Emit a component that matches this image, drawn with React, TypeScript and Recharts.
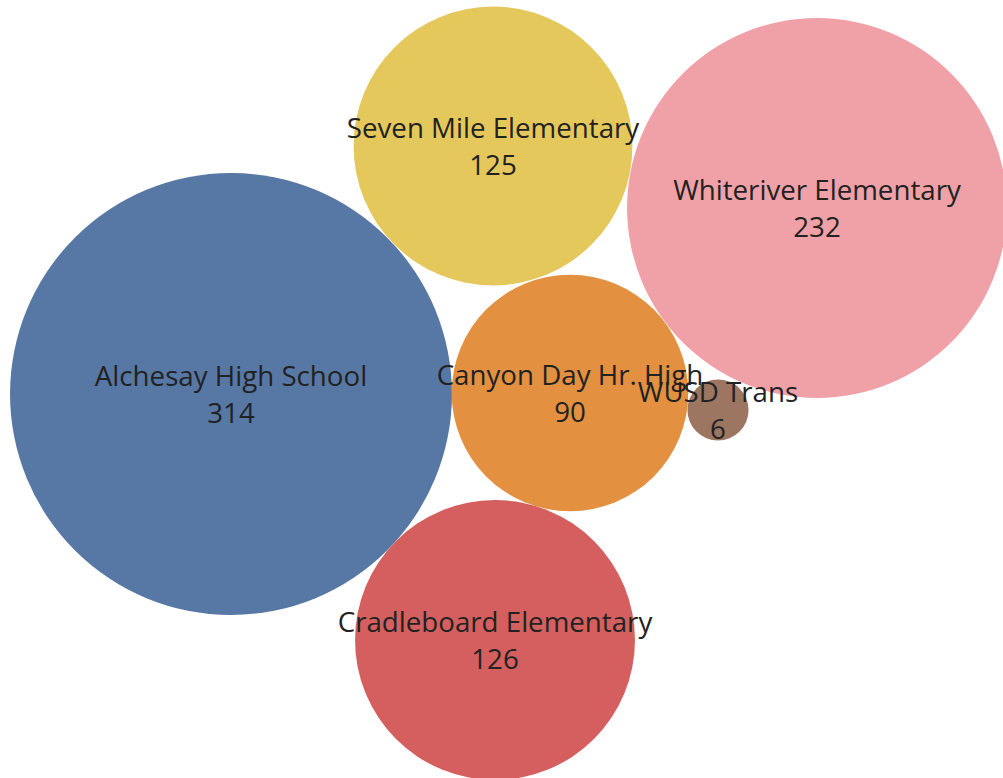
import React from "react";
import { ScatterChart, Scatter, XAxis, YAxis, ZAxis } from "recharts";

const schools = [
  "Alchesay High School",
  "Whiteriver Elementary",
  "Seven Mile Elementary",
  "Cradleboard Elementary",
  "Canyon Day Hr. High",
  "WUSD Trans",
];
const enrollment = [314, 232, 125, 126, 90, 6];
// packed-bubble layout positions (layout units)
const bubbleX = [231, 817, 493, 495, 570, 718];
const bubbleY = [394, 208, 146, 640, 393, 410];
const colors = ["#5778A5", "#F0A1A8", "#E5C85B", "#D45F5E", "#E39140", "#9D7662"];

const data = schools.map((name, i) => ({
  name,
  value: enrollment[i],
  x: bubbleX[i],
  y: bubbleY[i],
  color: colors[i],
}));

const W = 1003;
const H = 778;
const K = 12.47; // radius per sqrt(value)
const Z_MAX = 400;

const radiusOf = (p: any) => {
  if (p.width) return p.width / 2;
  return Math.sqrt(Math.max(p.size || 0, 0) / Math.PI);
};

const CircleShape = (p: any) => (
  <circle cx={p.cx} cy={p.cy} r={radiusOf(p)} fill={p.payload.color} />
);

const LabelShape = (p: any) => (
  <g>
    <text
      x={p.cx}
      y={p.cy - 8}
      textAnchor="middle"
      fontFamily="'Open Sans', sans-serif"
      fontSize={27.7}
      fill="#222"
    >
      {p.payload.name}
    </text>
    <text
      x={p.cx}
      y={p.cy + 29}
      textAnchor="middle"
      fontFamily="'Open Sans', sans-serif"
      fontSize={27.7}
      fill="#222"
    >
      {p.payload.value}
    </text>
  </g>
);

export default function App() {
  return (
    <div style={{ position: "absolute", left: 0, top: 0, width: W, height: H, background: "#fff" }}>
      <ScatterChart width={W} height={H} margin={{ top: 0, right: 0, bottom: 0, left: 0 }}>
        <XAxis type="number" dataKey="x" domain={[0, W]} hide />
        <YAxis type="number" dataKey="y" domain={[0, H]} reversed hide />
        <ZAxis type="number" dataKey="value" domain={[0, Z_MAX]} range={[0, Math.PI * K * K * Z_MAX]} />
        <Scatter data={data} shape={CircleShape} isAnimationActive={false} />
        <Scatter data={data} shape={LabelShape} isAnimationActive={false} />
      </ScatterChart>
    </div>
  );
}
